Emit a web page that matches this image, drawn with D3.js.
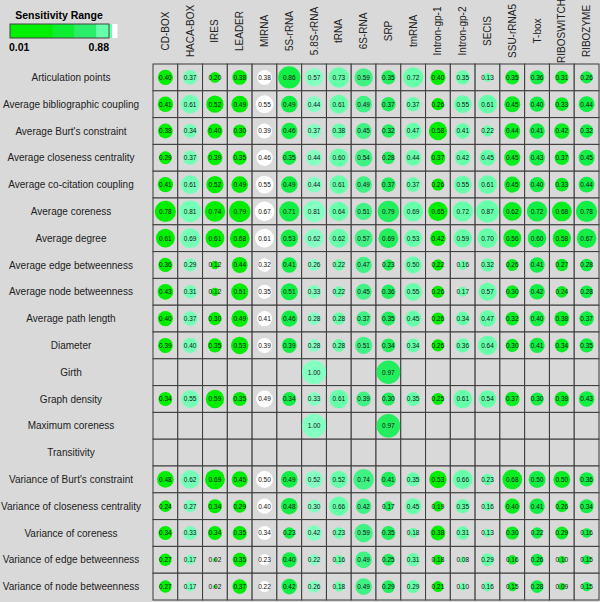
<!DOCTYPE html>
<html>
<head>
<meta charset="utf-8">
<script src="https://d3js.org/d3.v7.min.js"></script>
<style>
  body { margin: 0; background: #d9d9d9; font-family: "Liberation Sans", Arial, sans-serif; }
  .row-label { font-size: 10px; fill: #222; }
  .col-label { font-size: 10px; fill: #222; }
  .cell-text { font-size: 6.5px; fill: #111; }
</style>
</head>
<body>
<div id="chart"></div>
<script>
// RNA families (columns)
const families = ["CD-BOX", "HACA-BOX", "IRES", "LEADER", "MIRNA", "5S-rRNA", "5.8S-rRNA", "tRNA",
  "6S-RNA", "SRP", "tmRNA", "Intron-gp-1", "Intron-gp-2", "SECIS", "SSU-rRNA5", "T-box",
  "RIBOSWITCH", "RIBOZYME"];

// column sensitivity (sets the colour of each column)
const familySensitivity = [0.01, 0.66, 0.01, 0.02, 0.88, 0.2, 0.72, 0.6, 0.45, 0.3, 0.6, 0.01,
  0.6, 0.6, 0.1, 0.2, 0.1, 0.2];

// network measures (rows)
const measures = ["Articulation points", "Average bibliographic coupling", "Average Burt's constraint",
  "Average closeness centrality", "Average co-citation coupling", "Average coreness", "Average degree",
  "Average edge betweenness", "Average node betweenness", "Average path length", "Diameter", "Girth",
  "Graph density", "Maximum coreness", "Transitivity", "Variance of Burt's constraint",
  "Variance of closeness centrality", "Variance of coreness", "Variance of edge betweenness",
  "Variance of node betweenness"];

const _ = null;
const values = [
  [0.40, 0.37, 0.20, 0.38, 0.38, 0.86, 0.57, 0.73, 0.59, 0.35, 0.72, 0.40, 0.35, 0.13, 0.35, 0.36, 0.31, 0.26],
  [0.41, 0.61, 0.52, 0.49, 0.55, 0.49, 0.44, 0.61, 0.49, 0.37, 0.37, 0.26, 0.55, 0.61, 0.45, 0.40, 0.33, 0.44],
  [0.38, 0.34, 0.40, 0.30, 0.39, 0.46, 0.37, 0.38, 0.45, 0.32, 0.47, 0.58, 0.41, 0.22, 0.44, 0.41, 0.42, 0.32],
  [0.29, 0.37, 0.39, 0.35, 0.46, 0.35, 0.44, 0.60, 0.54, 0.28, 0.44, 0.37, 0.42, 0.45, 0.45, 0.43, 0.37, 0.45],
  [0.41, 0.61, 0.52, 0.49, 0.55, 0.49, 0.44, 0.61, 0.49, 0.37, 0.37, 0.26, 0.55, 0.61, 0.45, 0.40, 0.33, 0.44],
  [0.78, 0.81, 0.74, 0.79, 0.67, 0.71, 0.81, 0.64, 0.51, 0.79, 0.69, 0.65, 0.72, 0.87, 0.62, 0.72, 0.68, 0.78],
  [0.61, 0.69, 0.61, 0.68, 0.61, 0.53, 0.62, 0.62, 0.57, 0.69, 0.53, 0.42, 0.59, 0.70, 0.56, 0.60, 0.58, 0.67],
  [0.36, 0.29, 0.12, 0.44, 0.32, 0.41, 0.26, 0.22, 0.47, 0.23, 0.50, 0.22, 0.16, 0.32, 0.26, 0.41, 0.27, 0.28],
  [0.43, 0.31, 0.12, 0.51, 0.35, 0.51, 0.33, 0.22, 0.45, 0.36, 0.55, 0.26, 0.17, 0.57, 0.30, 0.42, 0.24, 0.28],
  [0.40, 0.37, 0.30, 0.49, 0.41, 0.46, 0.28, 0.28, 0.37, 0.35, 0.45, 0.26, 0.34, 0.47, 0.32, 0.40, 0.38, 0.37],
  [0.39, 0.40, 0.35, 0.53, 0.39, 0.39, 0.28, 0.28, 0.51, 0.34, 0.34, 0.26, 0.36, 0.64, 0.30, 0.41, 0.34, 0.35],
  [_, _, _, _, _, _, 1.00, _, _, 0.97, _, _, _, _, _, _, _, _],
  [0.34, 0.55, 0.59, 0.35, 0.49, 0.34, 0.33, 0.61, 0.39, 0.30, 0.35, 0.25, 0.61, 0.54, 0.37, 0.30, 0.38, 0.43],
  [_, _, _, _, _, _, 1.00, _, _, 0.97, _, _, _, _, _, _, _, _],
  [_, _, _, _, _, _, _, _, _, _, _, _, _, _, _, _, _, _],
  [0.48, 0.62, 0.69, 0.45, 0.50, 0.49, 0.52, 0.52, 0.74, 0.41, 0.35, 0.53, 0.66, 0.23, 0.68, 0.50, 0.50, 0.36],
  [0.24, 0.27, 0.34, 0.29, 0.40, 0.48, 0.30, 0.66, 0.42, 0.17, 0.45, 0.19, 0.35, 0.16, 0.40, 0.41, 0.26, 0.34],
  [0.34, 0.33, 0.34, 0.35, 0.34, 0.23, 0.42, 0.23, 0.59, 0.35, 0.18, 0.38, 0.31, 0.13, 0.30, 0.22, 0.29, 0.16],
  [0.27, 0.17, 0.02, 0.35, 0.23, 0.40, 0.22, 0.16, 0.49, 0.25, 0.31, 0.18, 0.08, 0.29, 0.16, 0.26, 0.10, 0.15],
  [0.27, 0.17, 0.02, 0.37, 0.22, 0.42, 0.26, 0.18, 0.49, 0.29, 0.29, 0.21, 0.10, 0.16, 0.15, 0.28, 0.09, 0.15]
];

// legend steps
const legendSteps = [0.01, 0.15, 0.35, 0.6, 0.75, 0.88];

const width = 600, height = 602;
const margin = { top: 64, left: 153, right: 0, bottom: 2 };

const svg = d3.select("#chart").append("svg")
  .attr("width", width)
  .attr("height", height);

svg.append("rect").attr("width", width).attr("height", height).attr("fill", "#d9d9d9");

const x = d3.scaleBand().domain(families).range([margin.left, width - 1]);
const y = d3.scaleBand().domain(measures).range([margin.top, height - margin.bottom]);

const color = d3.scaleLinear()
  .domain([0.01, 0.2, 0.4, 0.6, 0.75, 0.88])
  .range(["#00ee00", "#11ee44", "#33ee77", "#66ffaa", "#8cffc8", "#ffffff"]);

const radius = d3.scaleSqrt().domain([0, 1]).range([0, 12]);

// grid cells
const rowsG = svg.append("g");
measures.forEach((m, i) => {
  families.forEach((f, j) => {
    rowsG.append("rect")
      .attr("x", x(f))
      .attr("y", y(m))
      .attr("width", x.bandwidth())
      .attr("height", y.bandwidth())
      .attr("fill", "#d9d9d9")
      .attr("stroke", "#3a3a3a")
      .attr("stroke-width", 1);
  });
});

// circles + numbers
const cells = [];
values.forEach((row, i) => row.forEach((v, j) => {
  if (v !== null) cells.push({ m: measures[i], f: families[j], v: v, s: familySensitivity[j] });
}));

svg.selectAll(".dot")
  .data(cells)
  .enter()
  .append("circle")
  .attr("class", "dot")
  .attr("cx", d => x(d.f) + x.bandwidth() / 2)
  .attr("cy", d => y(d.m) + y.bandwidth() / 2)
  .attr("r", d => radius(d.v))
  .attr("fill", d => color(d.s));

svg.selectAll(".cell-text")
  .data(cells)
  .enter()
  .append("text")
  .attr("class", "cell-text")
  .attr("x", d => x(d.f) + x.bandwidth() / 2)
  .attr("y", d => y(d.m) + y.bandwidth() / 2 + 2.3)
  .attr("text-anchor", "middle")
  .text(d => d.v.toFixed(2));

// row labels
svg.selectAll(".row-label")
  .data(measures)
  .enter()
  .append("text")
  .attr("class", "row-label")
  .attr("x", 71)
  .attr("y", d => y(d) + y.bandwidth() / 2 + 3.5)
  .attr("text-anchor", "middle")
  .text(d => d);

// column labels (rotated)
svg.selectAll(".col-label")
  .data(families)
  .enter()
  .append("text")
  .attr("class", "col-label")
  .attr("transform", d => `translate(${x(d) + x.bandwidth() / 2 + 3.5},31) rotate(-90)`)
  .attr("text-anchor", "middle")
  .text(d => d);

// legend
const legend = svg.append("g");
legend.append("text")
  .attr("x", 59).attr("y", 19)
  .attr("text-anchor", "middle")
  .attr("font-size", 10.5).attr("font-weight", "bold")
  .text("Sensitivity Range");

const lx = d3.scaleLinear().domain([0.01, 0.88]).range([10, 109]);
const stepW = [0.43, 0.22, 0.22, 0.16, 0.05];
let acc = 0;
stepW.forEach((w, i) => {
  legend.append("rect")
    .attr("x", 10 + acc * 99)
    .attr("y", 24)
    .attr("width", w * 99 + 0.5)
    .attr("height", 14)
    .attr("fill", color(legendSteps[i === 4 ? 5 : i]));
  acc += w;
});
legend.append("rect")
  .attr("x", lx(0.01)).attr("y", 24)
  .attr("width", lx(0.88) - lx(0.01)).attr("height", 14)
  .attr("fill", "none").attr("stroke", "#444");

legend.append("text")
  .attr("x", lx(0.01) - 1).attr("y", 51)
  .attr("font-size", 10.5).attr("font-weight", "bold")
  .text("0.01");
legend.append("text")
  .attr("x", lx(0.88)).attr("y", 51)
  .attr("text-anchor", "end")
  .attr("font-size", 10.5).attr("font-weight", "bold")
  .text("0.88");
</script>
</body>
</html>
